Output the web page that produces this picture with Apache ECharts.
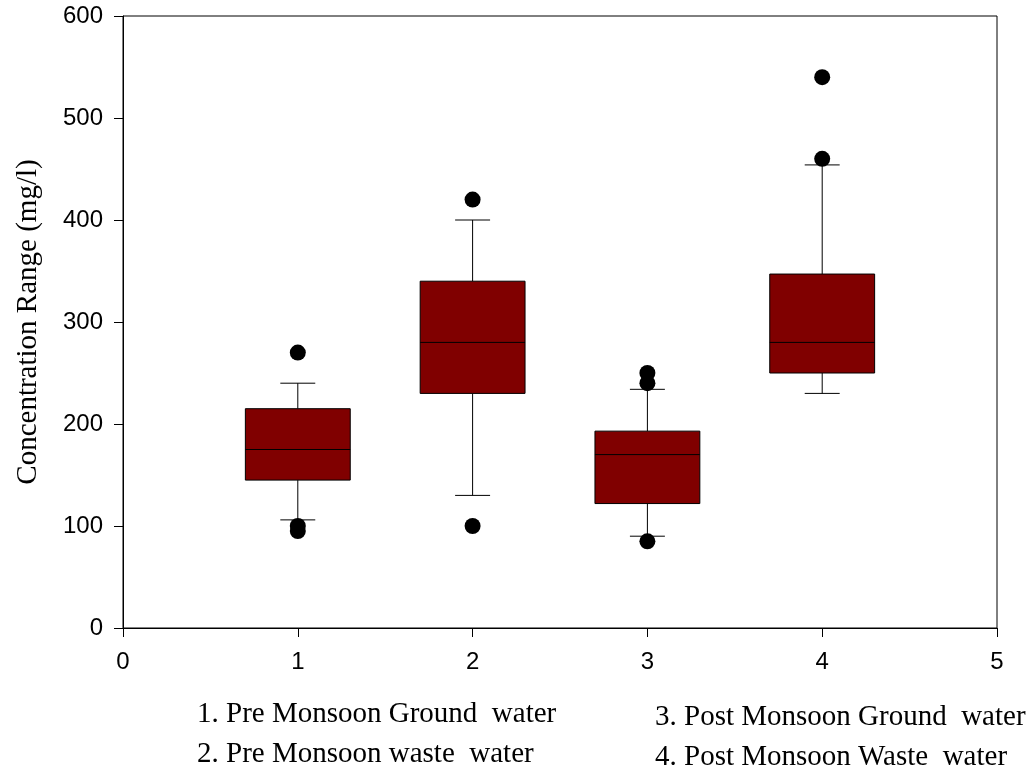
<!DOCTYPE html>
<html>
<head>
<meta charset="utf-8">
<script src="https://cdn.jsdelivr.net/npm/echarts@6/dist/echarts.min.js"></script>
<style>
  html, body { margin: 0; padding: 0; background: #fff; }
  #chart { width: 1036px; height: 777px; }
</style>
</head>
<body>
<div id="chart"></div>
<script>
// Group positions on the x axis (1..4)
const groups = [1, 2, 3, 4];
// Box statistics per group (mg/l)
const whiskerLow  = [106, 130, 90, 230];
const q1          = [145, 230, 122, 250];
const median      = [175, 280, 170, 280];
const q3          = [215, 340, 193, 347];
const whiskerHigh = [240, 400, 234, 454];
// Outlying observations: [group, value]
const outliers = [
  [1, 270], [1, 100], [1, 95],
  [2, 420], [2, 100],
  [3, 250], [3, 240], [3, 85],
  [4, 540], [4, 460]
];
// Axis ticks
const xTicks = [0, 1, 2, 3, 4, 5];
const yTicks = [0, 100, 200, 300, 400, 500, 600];
// Group descriptions printed under the axis
const legendLines = [
  '1. Pre Monsoon Ground  water',
  '2. Pre Monsoon waste  water',
  '3. Post Monsoon Ground  water',
  '4. Post Monsoon Waste  water'
];

const boxData = groups.map((g, i) => [g, whiskerLow[i], q1[i], median[i], q3[i], whiskerHigh[i]]);

const BOX_W = 0.6;   // box width in x units
const CAP_W = 0.2;   // whisker cap width in x units
const FILL = '#800000';

function renderBox(params, api) {
  const x = api.value(0);
  const lo = api.value(1), b1 = api.value(2), md = api.value(3), b3 = api.value(4), hi = api.value(5);
  const halfBox = api.size([BOX_W, 0])[0] / 2;
  const halfCap = api.size([CAP_W, 0])[0] / 2;
  const pLo = api.coord([x, lo]);
  const pQ1 = api.coord([x, b1]);
  const pMd = api.coord([x, md]);
  const pQ3 = api.coord([x, b3]);
  const pHi = api.coord([x, hi]);
  const cx = pMd[0];
  const line = (x1, y1, x2, y2) => ({
    type: 'line',
    shape: { x1, y1, x2, y2 },
    style: { stroke: '#000', lineWidth: 1 }
  });
  return {
    type: 'group',
    children: [
      line(cx, pHi[1], cx, pQ3[1]),
      line(cx, pQ1[1], cx, pLo[1]),
      line(cx - halfCap, pHi[1], cx + halfCap, pHi[1]),
      line(cx - halfCap, pLo[1], cx + halfCap, pLo[1]),
      {
        type: 'rect',
        shape: { x: cx - halfBox, y: pQ3[1], width: halfBox * 2, height: pQ1[1] - pQ3[1] },
        style: { fill: FILL, stroke: '#000', lineWidth: 1 }
      },
      line(cx - halfBox, pMd[1], cx + halfBox, pMd[1])
    ]
  };
}

const chart = echarts.init(document.getElementById('chart'), null, { renderer: 'canvas' });

const serif = '"Liberation Serif", "Times New Roman", serif';
const sans = '"Liberation Sans", Arial, sans-serif';

chart.setOption({
  animation: false,
  backgroundColor: '#fff',
  grid: {
    left: 123, right: 39, top: 16, bottom: 149,
    outerBoundsMode: 'none',
    containLabel: false,
    show: true, borderColor: '#000', borderWidth: 1, backgroundColor: 'transparent'
  },
  xAxis: {
    type: 'value',
    min: xTicks[0], max: xTicks[xTicks.length - 1], interval: 1,
    axisLine: { show: true, lineStyle: { color: '#000', width: 1 } },
    axisTick: { show: true, length: 9, inside: false, lineStyle: { color: '#000' } },
    axisLabel: { color: '#000', fontFamily: sans, fontSize: 24, margin: 22 },
    splitLine: { show: false }
  },
  yAxis: {
    type: 'value',
    min: yTicks[0], max: yTicks[yTicks.length - 1], interval: 100,
    name: 'Concentration Range (mg/l)',
    nameLocation: 'middle',
    nameGap: 80,
    nameTextStyle: { color: '#000', fontFamily: serif, fontSize: 29 },
    axisLine: { show: true, lineStyle: { color: '#000', width: 1 } },
    axisTick: { show: true, length: 9, inside: false, lineStyle: { color: '#000' } },
    axisLabel: { color: '#000', fontFamily: sans, fontSize: 24, margin: 20 },
    splitLine: { show: false }
  },
  series: [
    {
      type: 'custom',
      renderItem: renderBox,
      data: boxData,
      encode: { x: 0, y: [1, 2, 3, 4, 5] },
      clip: false
    },
    {
      type: 'scatter',
      data: outliers,
      symbol: 'circle',
      symbolSize: 16,
      itemStyle: { color: '#000', opacity: 1 },
      z: 5
    }
  ],
  graphic: [
    { type: 'text', left: 197, top: 700, style: { text: legendLines[0], font: '29px ' + serif, fill: '#000' } },
    { type: 'text', left: 197, top: 740, style: { text: legendLines[1], font: '29px ' + serif, fill: '#000' } },
    { type: 'text', left: 655, top: 703, style: { text: legendLines[2], font: '29px ' + serif, fill: '#000' } },
    { type: 'text', left: 655, top: 743, style: { text: legendLines[3], font: '29px ' + serif, fill: '#000' } }
  ]
});
</script>
</body>
</html>
